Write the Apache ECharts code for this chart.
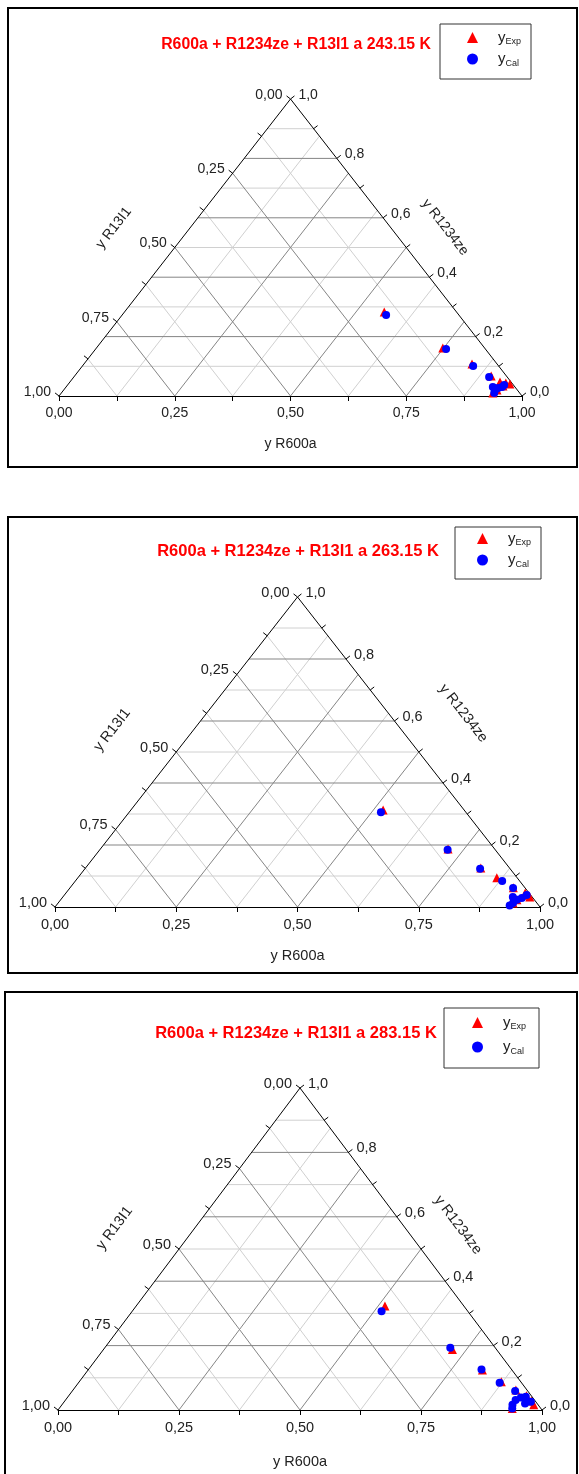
<!DOCTYPE html>
<html>
<head>
<meta charset="utf-8">
<script src="https://cdn.jsdelivr.net/npm/echarts@6/dist/echarts.min.js"></script>
<style>
html,body{margin:0;padding:0;background:#fff;}
#chart{width:579px;height:1474px;}
</style>
</head>
<body>
<div id="chart"></div>
<script>
// ================= DATA =================
const chartTitles = [
  'R600a + R1234ze + R13I1 a 243.15 K',
  'R600a + R1234ze + R13I1 a 263.15 K',
  'R600a + R1234ze + R13I1 a 283.15 K'
];
const bottomAxisName = 'y R600a';
const rightAxisName = 'y R1234ze';
const leftAxisName = 'y R13I1';
const seriesNames = ['yExp', 'yCal'];
const legendLabels = {yExp: ['y', 'Exp'], yCal: ['y', 'Cal']};

// bottom axis (R600a)
const bottomTickLabels = ['0,00', '0,25', '0,50', '0,75', '1,00'];
// left axis (R13I1): 0 at apex, 1 at bottom-left
const leftMajorValues = [0, 0.25, 0.5, 0.75, 1];
const leftTickLabels = ['0,00', '0,25', '0,50', '0,75', '1,00'];
const leftMinorValues = [0.125, 0.375, 0.625, 0.875];
// right axis (R1234ze): 1 at apex, 0 at bottom-right
const rightMajorValues = [0, 0.2, 0.4, 0.6, 0.8, 1];
const rightTickLabels = ['0,0', '0,2', '0,4', '0,6', '0,8', '1,0'];
const rightMinorValues = [0.1, 0.3, 0.5, 0.7, 0.9];
// grid lines
const gridMajorB = [0.2, 0.4, 0.6, 0.8];
const gridMinorB = [0.1, 0.3, 0.5, 0.7, 0.9];
const gridMajorAC = [0.25, 0.5, 0.75];
const gridMinorAC = [0.125, 0.375, 0.625, 0.875];

// mole fractions (R13I1 = 1 - R600a - R1234ze)
// 243.15 K
const exp243_R600a   = [0.561, 0.748, 0.838, 0.900, 0.929, 0.943, 0.932, 0.936, 0.942, 0.954];
const exp243_R1234ze = [0.283, 0.162, 0.108, 0.067, 0.047, 0.044, 0.010, 0.020, 0.034, 0.040];
const cal243_R600a   = [0.570, 0.757, 0.844, 0.897, 0.922, 0.932, 0.935, 0.943, 0.935, 0.942];
const cal243_R1234ze = [0.273, 0.158, 0.101, 0.064, 0.030, 0.020, 0.027, 0.037, 0.010, 0.030];
// 263.15 K
const exp263_R600a   = [0.520, 0.717, 0.815, 0.864, 0.914, 0.947, 0.963, 0.938, 0.941, 0.955];
const exp263_R1234ze = [0.313, 0.187, 0.126, 0.094, 0.062, 0.045, 0.032, 0.013, 0.023, 0.038];
const cal263_R600a   = [0.519, 0.717, 0.815, 0.880, 0.914, 0.928, 0.941, 0.938, 0.948, 0.953, 0.935];
const cal263_R1234ze = [0.306, 0.185, 0.123, 0.084, 0.061, 0.032, 0.023, 0.013, 0.029, 0.039, 0.005];
// 283.15 K
const exp283_R600a   = [0.514, 0.721, 0.815, 0.872, 0.915, 0.946, 0.964, 0.975, 0.936, 0.952];
const exp283_R1234ze = [0.323, 0.188, 0.124, 0.088, 0.062, 0.044, 0.028, 0.016, 0.005, 0.030];
const cal283_R600a   = [0.515, 0.714, 0.812, 0.870, 0.915, 0.931, 0.930, 0.937, 0.946, 0.964, 0.936, 0.955];
const cal283_R1234ze = [0.307, 0.193, 0.126, 0.085, 0.059, 0.016, 0.031, 0.039, 0.041, 0.026, 0.005, 0.020];

const panelData = [
  {exp: [exp243_R600a, exp243_R1234ze], cal: [cal243_R600a, cal243_R1234ze]},
  {exp: [exp263_R600a, exp263_R1234ze], cal: [cal263_R600a, cal263_R1234ze]},
  {exp: [exp283_R600a, exp283_R1234ze], cal: [cal283_R600a, cal283_R1234ze]}
];

// ================= LAYOUT / STYLE =================
const FONT = 'Liberation Sans, Arial, Helvetica, sans-serif';
const TEXT = '#222';
const TICK_LEN = 5;
const panels = [
  {grid: {left: 59, top: 99, width: 463, height: 297}, box: [8, 8, 569, 459], title: [296, 45], titleSize: 15.8,
   legend: {left: 440, top: 24, padding: [6, 10, 11, 27], itemGap: 5}, leftTitle: [60, -22], rightTitle: [43, -8], nameGap: 41, fs: 14},
  {grid: {left: 55, top: 597, width: 485, height: 310}, box: [8, 517, 569, 456], title: [298, 551], titleSize: 16.5,
   legend: {left: 455, top: 527, padding: [4, 10, 10, 22], itemGap: 5}, leftTitle: [64, -22], rightTitle: [59, 3], nameGap: 41, fs: 14.5},
  {grid: {left: 58, top: 1088, width: 484, height: 322}, box: [5, 992, 572, 490], title: [296, 1033], titleSize: 16.5,
   legend: {left: 444, top: 1008, padding: [7, 13, 12, 28], itemGap: 8}, leftTitle: [64, -22], rightTitle: [44, -3], nameGap: 44, fs: 14.5}
];

// ternary (R600a = a, R1234ze = b) -> cartesian of the grid
function tern(a, b) { return [a + b / 2, b]; }
function unit(dx, dy) { const l = Math.hypot(dx, dy); return [dx / l, dy / l]; }
function frame(api) {
  const BL = api.coord([0, 0]), BR = api.coord([1, 0]), AP = api.coord([0.5, 1]);
  const uL = unit(AP[0] - BL[0], AP[1] - BL[1]);
  const uR = unit(AP[0] - BR[0], AP[1] - BR[1]);
  return {BL, BR, AP, uL, uR, nL: [uL[1], -uL[0]], nR: [-uR[1], uR[0]]};
}

// grid-line items: [family, value, major]; family 0: const b, 1: const a, 2: const c
const gridItems = [];
gridMinorB.forEach(v => gridItems.push([0, v, 0]));
gridMinorAC.forEach(v => { gridItems.push([1, v, 0]); gridItems.push([2, v, 0]); });
gridMajorB.forEach(v => gridItems.push([0, v, 1]));
gridMajorAC.forEach(v => { gridItems.push([1, v, 1]); gridItems.push([2, v, 1]); });

// tick items
const tickItems = [];
leftMajorValues.forEach((v, i) => tickItems.push({side: 0, v, label: leftTickLabels[i]}));
leftMinorValues.forEach(v => tickItems.push({side: 0, v, label: ''}));
rightMajorValues.forEach((v, i) => tickItems.push({side: 1, v, label: rightTickLabels[i]}));
rightMinorValues.forEach(v => tickItems.push({side: 1, v, label: ''}));

function renderGrid(params, api) {
  const fam = api.value(0), v = api.value(1), major = api.value(2);
  let p1, p2;
  if (fam === 0) { p1 = tern(0, v); p2 = tern(1 - v, v); }
  else if (fam === 1) { p1 = tern(v, 0); p2 = tern(v, 1 - v); }
  else { p1 = tern(1 - v, 0); p2 = tern(0, 1 - v); }
  const c1 = api.coord(p1), c2 = api.coord(p2);
  return {type: 'line', shape: {x1: c1[0], y1: c1[1], x2: c2[0], y2: c2[1]},
    style: {stroke: major ? '#858585' : '#d0d0d0', lineWidth: 1}};
}
function renderEdges(params, api) {
  const f = frame(api);
  const s = params.dataIndex === 0 ? f.BL : f.BR;
  return {type: 'line', shape: {x1: s[0], y1: s[1], x2: f.AP[0], y2: f.AP[1]}, style: {stroke: '#000', lineWidth: 1}};
}
function makeTickRenderer(fs) {
  return function (params, api) {
    const f = frame(api);
    const t = tickItems[params.dataIndex];
    let P, n, align, dx;
    if (t.side === 0) { P = api.coord(tern(0, 1 - t.v)); n = f.nL; align = 'right'; dx = -4; }
    else { P = api.coord(tern(1 - t.v, t.v)); n = f.nR; align = 'left'; dx = 4; }
    const E = [P[0] + n[0] * TICK_LEN, P[1] + n[1] * TICK_LEN];
    const children = [{type: 'line', shape: {x1: P[0], y1: P[1], x2: E[0], y2: E[1]}, style: {stroke: '#000', lineWidth: 1}}];
    if (t.label) {
      children.push({type: 'text', x: E[0] + dx, y: E[1] - 1,
        style: {text: t.label, align: align, verticalAlign: 'middle', fontSize: fs, fontFamily: FONT, fill: TEXT}});
    }
    return {type: 'group', children};
  };
}
function makeTitleRenderer(p) {
  return function (params, api) {
    const f = frame(api);
    let mid, pos, rot, text;
    if (params.dataIndex === 0) {
      mid = [(f.BL[0] + f.AP[0]) / 2, (f.BL[1] + f.AP[1]) / 2];
      pos = [mid[0] + f.nL[0] * p.leftTitle[0] + f.uL[0] * p.leftTitle[1], mid[1] + f.nL[1] * p.leftTitle[0] + f.uL[1] * p.leftTitle[1]];
      rot = Math.atan2(-(f.AP[1] - f.BL[1]), f.AP[0] - f.BL[0]);
      text = leftAxisName;
    } else {
      mid = [(f.BR[0] + f.AP[0]) / 2, (f.BR[1] + f.AP[1]) / 2];
      pos = [mid[0] + f.nR[0] * p.rightTitle[0] + f.uR[0] * p.rightTitle[1], mid[1] + f.nR[1] * p.rightTitle[0] + f.uR[1] * p.rightTitle[1]];
      rot = Math.atan2(-(f.BR[1] - f.AP[1]), f.BR[0] - f.AP[0]);
      text = rightAxisName;
    }
    return {type: 'text', x: pos[0], y: pos[1], rotation: rot,
      style: {text, align: 'center', verticalAlign: 'middle', fontSize: p.fs, fontFamily: FONT, fill: TEXT}};
  };
}

const grids = [], xAxes = [], yAxes = [], series = [], legends = [], graphics = [];
panels.forEach((p, i) => {
  grids.push(Object.assign({containLabel: false}, p.grid));
  xAxes.push({
    type: 'value', gridIndex: i, min: 0, max: 1, interval: 0.25,
    axisLine: {lineStyle: {color: '#000', width: 1}},
    axisTick: {length: TICK_LEN, lineStyle: {color: '#000'}},
    minorTick: {show: true, splitNumber: 2, length: TICK_LEN, lineStyle: {color: '#000'}},
    splitLine: {show: false}, minorSplitLine: {show: false},
    axisLabel: {formatter: (v, idx) => bottomTickLabels[idx], margin: 10, fontSize: p.fs, color: TEXT, fontFamily: FONT},
    name: bottomAxisName, nameLocation: 'middle', nameGap: p.nameGap,
    nameTextStyle: {fontSize: p.fs, color: TEXT, fontFamily: FONT}
  });
  yAxes.push({type: 'value', gridIndex: i, min: 0, max: 1, show: false});
  const common = {xAxisIndex: i, yAxisIndex: i, silent: true, animation: false};
  series.push(Object.assign({type: 'custom', name: 'grid' + i, renderItem: renderGrid, data: gridItems, z: 1}, common));
  series.push(Object.assign({type: 'custom', name: 'edges' + i, renderItem: renderEdges, data: [[0, 0], [1, 0]], z: 2}, common));
  series.push(Object.assign({type: 'custom', name: 'ticks' + i, renderItem: makeTickRenderer(p.fs), data: tickItems.map(t => [t.side, t.v]), z: 2}, common));
  series.push(Object.assign({type: 'custom', name: 'titles' + i, renderItem: makeTitleRenderer(p), data: [[0, 0], [1, 0]], z: 2}, common));
  const d = panelData[i];
  series.push(Object.assign({type: 'scatter', name: 'yExp', symbol: 'triangle', symbolSize: 9,
    itemStyle: {color: '#ff0000', opacity: 1}, z: 3,
    data: d.exp[0].map((a, k) => tern(a, d.exp[1][k]))}, common));
  series.push(Object.assign({type: 'scatter', name: 'yCal', symbol: 'circle', symbolSize: 8,
    itemStyle: {color: '#0000ff', opacity: 1}, z: 4,
    data: d.cal[0].map((a, k) => tern(a, d.cal[1][k]))}, common));
  legends.push({
    left: p.legend.left, top: p.legend.top, padding: p.legend.padding, itemGap: p.legend.itemGap,
    orient: 'vertical', borderColor: '#333', borderWidth: 1, backgroundColor: '#fff',
    itemWidth: 11, itemHeight: 11, selectedMode: false,
    data: [{name: 'yExp', icon: 'triangle'}, {name: 'yCal', icon: 'circle'}],
    formatter: name => '{y|' + legendLabels[name][0] + '}{s|' + legendLabels[name][1] + '}',
    textStyle: {rich: {
      y: {fontSize: 15, color: TEXT, fontFamily: FONT, lineHeight: 18, padding: [0, 0, 0, 15]},
      s: {fontSize: 9, color: TEXT, fontFamily: FONT, lineHeight: 10, verticalAlign: 'bottom'}
    }}
  });
  graphics.push({type: 'rect', shape: {x: p.box[0], y: p.box[1], width: p.box[2], height: p.box[3]},
    style: {fill: 'none', stroke: '#000', lineWidth: 2}, silent: true, z: 0});
  graphics.push({type: 'text', x: p.title[0], y: p.title[1],
    style: {text: chartTitles[i], align: 'center', verticalAlign: 'middle', fontSize: p.titleSize, fontWeight: 'bold', fontFamily: FONT, fill: '#ff0000'}, silent: true});
});

const chart = echarts.init(document.getElementById('chart'), null, {renderer: 'canvas'});
chart.setOption({
  animation: false,
  backgroundColor: '#fff',
  grid: grids, xAxis: xAxes, yAxis: yAxes, series: series, legend: legends, graphic: graphics
});
</script>
</body>
</html>
